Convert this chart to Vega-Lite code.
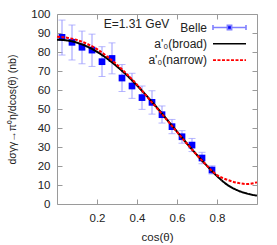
{
  "$schema": "https://vega.github.io/schema/vega-lite/v6.json",
  "width": 200,
  "height": 190,
  "autosize": {"type": "none"},
  "padding": {"left": 57, "top": 14, "right": 20, "bottom": 41},
  "title": {"text": "E=1.31 GeV", "anchor": "start", "align": "center", "dx": 79.5, "offset": -27.5, "baseline": "middle", "frame": "group", "fontSize": 12, "fontWeight": "normal", "font": "Liberation Sans", "color": "#222"},
  "datasets": {
    "belle": [
      {"x": 0.025, "y": 87.7, "lo": 78.4, "hi": 96.8, "series": "Belle"},
      {"x": 0.075, "y": 85.1, "lo": 75.8, "hi": 94.2, "series": "Belle"},
      {"x": 0.125, "y": 82.5, "lo": 73.8, "hi": 91.0, "series": "Belle"},
      {"x": 0.175, "y": 81.0, "lo": 72.4, "hi": 89.4, "series": "Belle"},
      {"x": 0.225, "y": 74.9, "lo": 67.1, "hi": 82.8, "series": "Belle"},
      {"x": 0.275, "y": 76.6, "lo": 68.5, "hi": 84.8, "series": "Belle"},
      {"x": 0.325, "y": 66.3, "lo": 59.2, "hi": 73.4, "series": "Belle"},
      {"x": 0.375, "y": 62.1, "lo": 55.6, "hi": 68.8, "series": "Belle"},
      {"x": 0.425, "y": 56.0, "lo": 49.8, "hi": 62.1, "series": "Belle"},
      {"x": 0.475, "y": 53.5, "lo": 47.3, "hi": 59.6, "series": "Belle"},
      {"x": 0.525, "y": 47.0, "lo": 42.6, "hi": 51.6, "series": "Belle"},
      {"x": 0.575, "y": 40.7, "lo": 37.0, "hi": 44.5, "series": "Belle"},
      {"x": 0.625, "y": 35.4, "lo": 32.0, "hi": 38.6, "series": "Belle"},
      {"x": 0.675, "y": 31.0, "lo": 27.6, "hi": 34.5, "series": "Belle"},
      {"x": 0.725, "y": 24.2, "lo": 21.2, "hi": 27.2, "series": "Belle"},
      {"x": 0.775, "y": 17.9, "lo": 15.8, "hi": 20.1, "series": "Belle"}
    ],
    "curves": [
      {"x": 0.00, "y": 86.5, "series": "a'₀(broad)"},
      {"x": 0.05, "y": 86.1, "series": "a'₀(broad)"},
      {"x": 0.10, "y": 84.9, "series": "a'₀(broad)"},
      {"x": 0.15, "y": 82.9, "series": "a'₀(broad)"},
      {"x": 0.20, "y": 80.1, "series": "a'₀(broad)"},
      {"x": 0.25, "y": 76.6, "series": "a'₀(broad)"},
      {"x": 0.30, "y": 72.4, "series": "a'₀(broad)"},
      {"x": 0.35, "y": 67.7, "series": "a'₀(broad)"},
      {"x": 0.40, "y": 62.4, "series": "a'₀(broad)"},
      {"x": 0.45, "y": 56.7, "series": "a'₀(broad)"},
      {"x": 0.50, "y": 50.7, "series": "a'₀(broad)"},
      {"x": 0.55, "y": 44.4, "series": "a'₀(broad)"},
      {"x": 0.60, "y": 38.1, "series": "a'₀(broad)"},
      {"x": 0.65, "y": 31.8, "series": "a'₀(broad)"},
      {"x": 0.70, "y": 25.8, "series": "a'₀(broad)"},
      {"x": 0.75, "y": 20.1, "series": "a'₀(broad)"},
      {"x": 0.80, "y": 14.7, "series": "a'₀(broad)"},
      {"x": 0.85, "y": 10.2, "series": "a'₀(broad)"},
      {"x": 0.90, "y": 7.3, "series": "a'₀(broad)"},
      {"x": 0.95, "y": 5.5, "series": "a'₀(broad)"},
      {"x": 1.00, "y": 4.4, "series": "a'₀(broad)"},
      {"x": 0.00, "y": 88.0, "series": "a'₀(narrow)"},
      {"x": 0.05, "y": 87.5, "series": "a'₀(narrow)"},
      {"x": 0.10, "y": 86.3, "series": "a'₀(narrow)"},
      {"x": 0.15, "y": 84.3, "series": "a'₀(narrow)"},
      {"x": 0.20, "y": 81.5, "series": "a'₀(narrow)"},
      {"x": 0.25, "y": 77.7, "series": "a'₀(narrow)"},
      {"x": 0.30, "y": 73.3, "series": "a'₀(narrow)"},
      {"x": 0.35, "y": 68.3, "series": "a'₀(narrow)"},
      {"x": 0.40, "y": 62.8, "series": "a'₀(narrow)"},
      {"x": 0.45, "y": 56.5, "series": "a'₀(narrow)"},
      {"x": 0.50, "y": 50.4, "series": "a'₀(narrow)"},
      {"x": 0.55, "y": 44.2, "series": "a'₀(narrow)"},
      {"x": 0.60, "y": 37.9, "series": "a'₀(narrow)"},
      {"x": 0.65, "y": 31.7, "series": "a'₀(narrow)"},
      {"x": 0.70, "y": 25.7, "series": "a'₀(narrow)"},
      {"x": 0.75, "y": 20.1, "series": "a'₀(narrow)"},
      {"x": 0.80, "y": 15.2, "series": "a'₀(narrow)"},
      {"x": 0.85, "y": 12.8, "series": "a'₀(narrow)"},
      {"x": 0.90, "y": 11.2, "series": "a'₀(narrow)"},
      {"x": 0.95, "y": 10.5, "series": "a'₀(narrow)"},
      {"x": 1.00, "y": 11.4, "series": "a'₀(narrow)"}
    ]
  },
  "resolve": {"axis": {"x": "independent", "y": "independent"}},
  "layer": [
    {
      "data": {"name": "belle"},
      "mark": {"type": "rule", "color": "#9999ff", "strokeWidth": 1},
      "encoding": {
        "x": {"field": "x", "type": "quantitative", "scale": {"domain": [0, 1], "nice": false},
              "axis": {"orient": "bottom", "values": [0.2, 0.4, 0.6, 0.8], "format": ".1f", "title": "cos(θ)", "titleY": 33, "titleBaseline": "middle", "labelPadding": 13}},
        "y": {"field": "lo", "type": "quantitative", "scale": {"domain": [0, 100], "nice": false},
              "axis": {"orient": "left", "values": [0,10,20,30,40,50,60,70,80,90,100], "title": "dσγγ→π⁰η/dcos(θ)  (nb)", "titleFontSize": 10.5, "titleX": -45, "titleY": 95, "titleAngle": -90, "titleAlign": "center", "titleBaseline": "middle", "labelPadding": 12}},
        "y2": {"field": "hi"}
      }
    },
    {
      "data": {"name": "belle"},
      "mark": {"type": "tick", "orient": "horizontal", "color": "#9999ff", "size": 7, "thickness": 1},
      "encoding": {
        "x": {"field": "x", "type": "quantitative",
              "axis": {"orient": "top", "values": [0.2, 0.4, 0.6, 0.8], "labels": false, "title": null}},
        "y": {"field": "lo", "type": "quantitative",
              "axis": {"orient": "right", "values": [0,10,20,30,40,50,60,70,80,90,100], "labels": false, "title": null}}
      }
    },
    {
      "data": {"name": "belle"},
      "mark": {"type": "tick", "orient": "horizontal", "color": "#9999ff", "size": 7, "thickness": 1},
      "encoding": {
        "x": {"field": "x", "type": "quantitative", "axis": null},
        "y": {"field": "hi", "type": "quantitative", "axis": null}
      }
    },
    {
      "data": {"name": "belle"},
      "mark": {"type": "square", "filled": true, "size": 45, "opacity": 1},
      "encoding": {
        "x": {"field": "x", "type": "quantitative", "axis": null},
        "y": {"field": "y", "type": "quantitative", "axis": null},
        "fill": {"field": "series", "type": "nominal",
                 "scale": {"domain": ["Belle", "a'₀(broad)", "a'₀(narrow)"], "range": ["#0000ff", "transparent", "transparent"]},
                 "legend": {
                   "orient": "none", "legendX": 165, "legendY": 6, "title": null, "padding": 0,
                   "symbolSize": 169, "rowPadding": 2.3, "labelAlign": "right", "labelOffset": -30,
                   "labelFontSize": 12, "labelFont": "Liberation Sans", "labelColor": "#222", "labelLimit": 200,
                   "symbolStrokeWidth": 1.6, "symbolOpacity": 1
                 }}
      }
    },
    {
      "data": {"name": "curves"},
      "mark": {"type": "line", "interpolate": "monotone", "strokeWidth": 2},
      "encoding": {
        "x": {"field": "x", "type": "quantitative", "axis": null},
        "y": {"field": "y", "type": "quantitative", "axis": null},
        "stroke": {"field": "series", "type": "nominal",
                   "scale": {"domain": ["Belle", "a'₀(broad)", "a'₀(narrow)"], "range": ["#8080ff", "#000000", "#ff0000"]}},
        "strokeDash": {"field": "series", "type": "nominal",
                       "scale": {"domain": ["Belle", "a'₀(broad)", "a'₀(narrow)"], "range": [[1, 0], [1, 0], [3, 1.5]]}}
      }
    },
    {
      "data": {"name": "curves"},
      "mark": {"type": "point", "opacity": 0, "filled": false},
      "encoding": {
        "x": {"field": "x", "type": "quantitative", "axis": null},
        "y": {"field": "y", "type": "quantitative", "axis": null},
        "shape": {"field": "series", "type": "nominal",
                  "scale": {"domain": ["Belle", "a'₀(broad)", "a'₀(narrow)"],
                            "range": ["M-2.54,0H-0.33M0.33,0H2.54M-2.54,-0.4V0.4M2.54,-0.4V0.4M-0.33,-0.33H0.33V0.33H-0.33Z", "M-2.54,0H2.54", "M-2.54,0H2.54"]}},
        "fill": {"field": "series", "type": "nominal"},
        "stroke": {"field": "series", "type": "nominal"},
        "strokeDash": {"field": "series", "type": "nominal"}
      }
    }
  ],
  "config": {
    "font": "Liberation Sans",
    "view": {"stroke": "#9a9a9a", "strokeWidth": 1},
    "legend": {"symbolOpacity": 1},
    "axis": {
      "domain": false, "grid": false, "ticks": true, "tickSize": -5, "tickColor": "#9a9a9a",
      "labelFontSize": 11.5, "labelColor": "#222", "labelFont": "Liberation Sans",
      "titleFontSize": 11.5, "titleColor": "#222", "titleFont": "Liberation Sans", "titleFontWeight": "normal"
    }
  }
}
